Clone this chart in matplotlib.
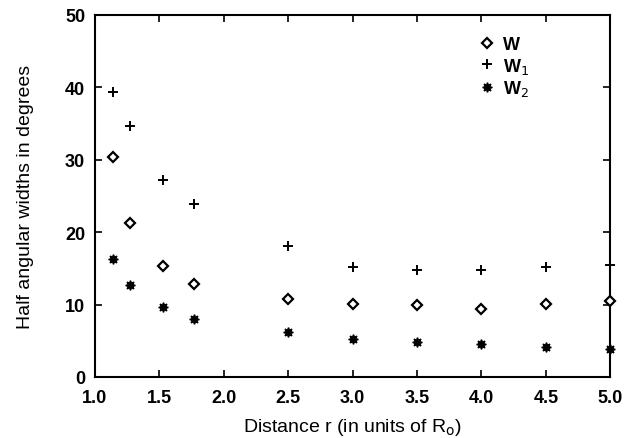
import matplotlib
matplotlib.use('Agg')
import matplotlib.pyplot as plt

# Data
r = [1.14, 1.27, 1.53, 1.77, 2.5, 3.0, 3.5, 4.0, 4.5, 5.0]
w = [30.4, 21.3, 15.3, 12.9, 10.8, 10.1, 10.0, 9.4, 10.1, 10.5]
w1 = [39.4, 34.7, 27.2, 23.9, 18.1, 15.2, 14.8, 14.8, 15.2, 15.5]
w2 = [16.3, 12.7, 9.6, 8.0, 6.2, 5.2, 4.8, 4.5, 4.2, 3.9]

xticks = [1.0, 1.5, 2.0, 2.5, 3.0, 3.5, 4.0, 4.5, 5.0]
yticks = [0, 10, 20, 30, 40, 50]

plt.rcParams['font.family'] = ['Liberation Sans', 'DejaVu Sans']

fig = plt.figure(figsize=(6.24, 4.39), dpi=100)
ax = fig.add_axes([0.152, 0.139, 0.826, 0.825])

ax.plot(r, w, linestyle='none', marker='D', markersize=5, markerfacecolor='white',
        markeredgecolor='black', markeredgewidth=1.6, clip_on=False, zorder=3, label='W')
ax.plot(r, w1, linestyle='none', marker='+', markersize=7, color='black',
        markeredgewidth=1.4, clip_on=False, zorder=3, label='W$_1$')
ax.plot(r, w2, linestyle='none', marker=(8, 1, 0), markersize=7, color='black',
        clip_on=False, zorder=3, label='W$_2$')

ax.set_xlim(1.0, 5.0)
ax.set_ylim(0, 50)
ax.set_xticks(xticks)
ax.set_yticks(yticks)
ax.set_xticklabels(['%.1f' % t for t in xticks], fontsize=13, fontweight='bold')
ax.set_yticklabels([str(t) for t in yticks], fontsize=13, fontweight='bold')
ax.tick_params(direction='in', top=True, right=True, length=5, width=1.2)
ax.tick_params(axis='x', pad=9)
ax.tick_params(axis='y', pad=7)

for s in ax.spines.values():
    s.set_linewidth(1.5)

ax.set_xlabel('Distance r (in units of R$_\\mathrm{o}$)', fontsize=14, labelpad=7)
ax.set_ylabel('Half angular widths in degrees', fontsize=14, labelpad=22)

leg = ax.legend(loc='upper left', bbox_to_anchor=(0.712, 0.985), frameon=False,
                handlelength=1.0, handletextpad=0.4, labelspacing=0.12,
                prop={'size': 13, 'weight': 'bold'})

plt.savefig('out.png', dpi=100)
